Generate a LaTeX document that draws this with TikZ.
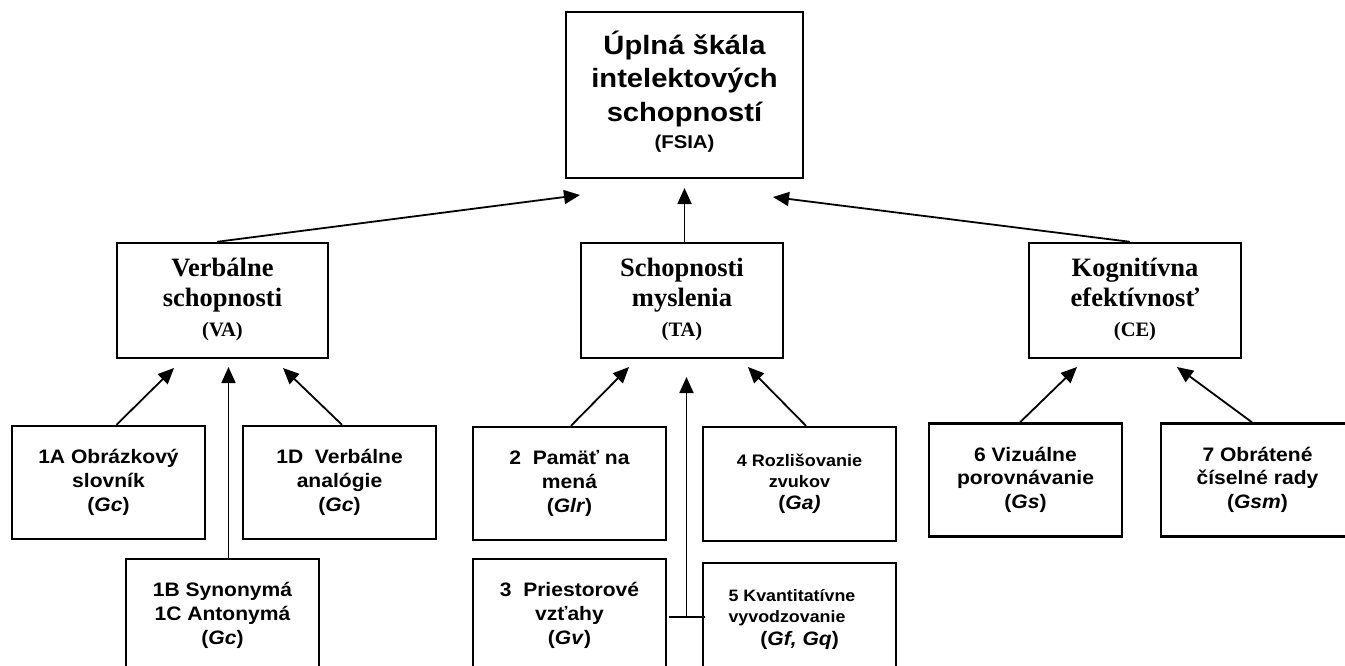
\documentclass[tikz,border=0pt]{standalone}
\usepackage{fontspec}
\setmainfont{Liberation Serif}
\setsansfont{Liberation Sans}
\usepackage{graphicx}
\usetikzlibrary{arrows.meta}
\newcommand\sxb[1]{\scalebox{1.08}[1]{#1}}
\newcommand\txb[1]{\scalebox{1.1}[1]{#1}}
\begin{document}
\begin{tikzpicture}[x=1pt,y=-1pt,
  box/.style={draw, line width=2.4pt, inner sep=0pt, align=center,
    minimum width=193pt, minimum height=113pt},
  midbox/.style={box, minimum height=115pt},
  sansb/.style={font=\sffamily\bfseries\fontsize{19.5}{24}\selectfont},
  serb/.style={font=\rmfamily\bfseries\fontsize{26.5}{30}\selectfont},
  arr/.style={line width=1.8pt, -{Triangle[length=16pt,width=14pt]}},
  ln/.style={line width=1.8pt}
]
\fill[white] (0,0) rectangle (1345,665);
\useasboundingbox (0,0) rectangle (1345,665);

% top
\node[box, minimum width=237pt, minimum height=166pt,
  font=\sffamily\bfseries\fontsize{26.5}{33.5}\selectfont] (top) at (684.5,95)
  {\txb{\begin{tabular}{@{}c@{}}Úplná škála\\intelektových\\schopností\\[-6pt]{\fontsize{18.5}{20}\selectfont (FSIA)}\end{tabular}}};

% middle
\node[midbox, serb, minimum width=211pt] (va) at (222.5,300.5)
  {\begin{tabular}{@{}c@{}}Verbálne\\schopnosti\\{\fontsize{20.5}{22}\selectfont (VA)}\end{tabular}};
\node[midbox, serb, minimum width=202pt] (ta) at (682,300.5)
  {\begin{tabular}{@{}c@{}}Schopnosti\\myslenia\\{\fontsize{20.5}{22}\selectfont (TA)}\end{tabular}};
\node[midbox, serb, minimum width=212pt] (ce) at (1135,300.5)
  {\begin{tabular}{@{}c@{}}Kognitívna\\efektívnosť\\{\fontsize{20.5}{22}\selectfont (CE)}\end{tabular}};

% bottom
\node[box, sansb] (a1) at (108.5,482.5)
  {\sxb{\begin{tabular}{@{}c@{}}1A Obrázkový\\slovník\\(\textit{Gc})\end{tabular}}};
\node[box, sansb] (d1) at (339.5,482.5)
  {\sxb{\begin{tabular}{@{}c@{}}1D\ \ Verbálne\\analógie\\(\textit{Gc})\end{tabular}}};
\node[box, sansb] (b1) at (222.5,615.5)
  {\sxb{\begin{tabular}{@{}c@{}}1B Synonymá\\1C Antonymá\\(\textit{Gc})\end{tabular}}};
\node[box, sansb] (s2) at (569.5,483.5)
  {\sxb{\begin{tabular}{@{}c@{}}2\ \ Pamäť na\\mená\\(\textit{Glr})\end{tabular}}};
\node[box, sansb] (s3) at (569.5,615.5)
  {\sxb{\begin{tabular}{@{}c@{}}3\ \ Priestorové\\vzťahy\\(\textit{Gv})\end{tabular}}};
\node[box, minimum height=114pt, font=\sffamily\bfseries\fontsize{16.7}{21}\selectfont] (s4) at (799.5,484)
  {\sxb{\begin{tabular}{@{}c@{}}4 Rozlišovanie\\zvukov\\[1pt]{\fontsize{19.5}{22}\selectfont(\textit{Ga)}}\end{tabular}}};
\node[box, font=\sffamily\bfseries\fontsize{16.5}{20.5}\selectfont] (s5) at (799.5,619.5)
  {\sxb{\begin{tabular}{@{}l@{\hspace{14pt}}}5 Kvantitatívne\\vyvodzovanie\\[3pt]\hspace*{29.5pt}{\fontsize{19.5}{22}\selectfont(\textit{Gf, Gq})}\end{tabular}}};
\node[box, sansb, font=\sffamily\bfseries\fontsize{19.5}{23.5}\selectfont] (s6) at (1025.5,480)
  {\sxb{\begin{tabular}{@{}c@{}}6 Vizuálne\\porovnávanie\\(\textit{Gs})\end{tabular}}};
\node[box, sansb, font=\sffamily\bfseries\fontsize{19.5}{23.5}\selectfont] (s7) at (1257.5,480)
  {\sxb{\begin{tabular}{@{}c@{}}7 Obrátené\\číselné rady\\(\textit{Gsm})\end{tabular}}};

% arrow ends
\coordinate (tva) at (580,195);
\coordinate (tta) at (684.5,188);
\coordinate (tce) at (773,197);
\coordinate (ja) at (174,368);
\coordinate (jb) at (228.5,367);
\coordinate (jd) at (283,368);
\coordinate (j2) at (629,367);
\coordinate (j3) at (686.5,377);
\coordinate (j4) at (748,367);
\coordinate (j6) at (1077,367);
\coordinate (j7) at (1177,367);
\coordinate (m35) at (686.5,617);

\draw[arr] ([xshift=-5.5pt]va.north) -- (tva);
\draw[arr] (ta.north -| tta) -- (tta);
\draw[arr] ([xshift=-5pt]ce.north) -- (tce);

\draw[arr] ([xshift=8pt]a1.north) -- (ja);
\draw[arr] (b1.north -| jb) -- (jb);
\draw[arr] ([xshift=2.5pt]d1.north) -- (jd);

\draw[arr] ([xshift=1.5pt]s2.north) -- (j2);
\draw[ln] ([xshift=2pt]s3.east |- m35) -- ([xshift=3pt]s5.west |- m35);
\draw[arr] (m35) -- (j3);
\draw[arr] ([xshift=6.5pt]s4.north) -- (j4);

\draw[arr] ([xshift=-5.5pt]s6.north) -- (j6);
\draw[arr] ([xshift=-5.5pt]s7.north) -- (j7);
\end{tikzpicture}
\end{document}
